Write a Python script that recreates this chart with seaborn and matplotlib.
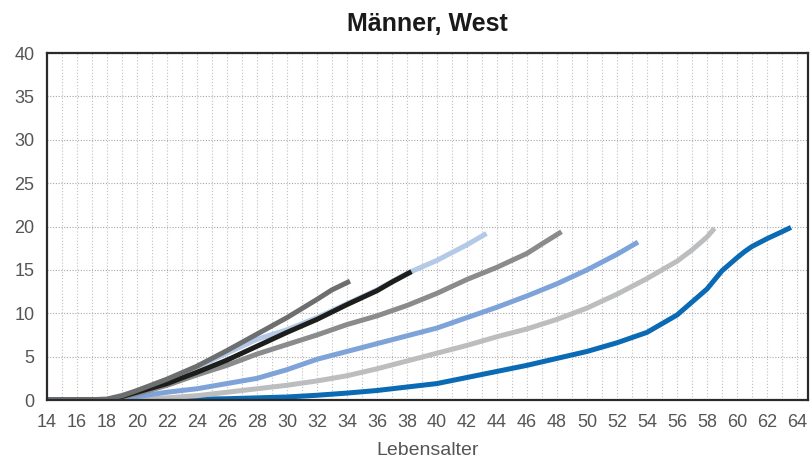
import numpy as np
import pandas as pd
import matplotlib
matplotlib.use("Agg")
import matplotlib.pyplot as plt
import seaborn as sns

# Cumulative values per cohort (age -> value)
ages_c1 = [14, 16, 18, 19, 20, 22, 24, 26, 28, 30, 32, 33, 34.2]
vals_c1 = [0, 0, 0.1, 0.5, 1.1, 2.4, 3.9, 5.7, 7.6, 9.5, 11.6, 12.7, 13.7]

ages_c2 = [14, 16, 18, 19, 20, 22, 24, 26, 28, 30, 32, 34, 36, 37, 38.3]
vals_c2 = [0, 0, 0.05, 0.4, 0.9, 1.9, 3.2, 4.6, 6.2, 7.8, 9.3, 11.0, 12.6, 13.6, 14.8]

ages_c3 = [14, 16, 18, 20, 22, 24, 26, 28, 30, 32, 34, 36, 38, 40, 42, 43.3]
vals_c3 = [0, 0, 0.1, 1.0, 2.4, 3.8, 5.4, 7.0, 8.1, 9.5, 11.1, 12.7, 14.6, 16.1, 17.9, 19.2]

ages_c4 = [14, 16, 18, 20, 22, 24, 26, 28, 30, 32, 34, 36, 38, 40, 42, 44, 46, 47, 48.3]
vals_c4 = [0, 0, 0.05, 0.7, 1.7, 2.9, 4.0, 5.3, 6.4, 7.5, 8.7, 9.7, 10.9, 12.3, 13.9, 15.3, 16.9, 18.0, 19.4]

ages_c5 = [14, 16, 18, 20, 22, 24, 26, 28, 30, 32, 34, 36, 38, 40, 42, 44, 46, 48, 50, 52, 53.4]
vals_c5 = [0, 0, 0.05, 0.4, 0.9, 1.3, 1.9, 2.5, 3.5, 4.7, 5.6, 6.5, 7.4, 8.3, 9.5, 10.7, 12.0, 13.4, 15.0, 16.8, 18.2]

ages_c6 = [14, 18, 20, 22, 24, 26, 28, 30, 32, 34, 36, 38, 40, 42, 44, 46, 48, 50, 52, 54, 56, 57, 58, 58.5]
vals_c6 = [0, 0, 0.05, 0.25, 0.5, 0.9, 1.3, 1.7, 2.2, 2.8, 3.6, 4.5, 5.4, 6.3, 7.3, 8.2, 9.3, 10.6, 12.2, 14.0, 16.0, 17.3, 18.8, 19.8]

ages_c7 = [14, 20, 22, 24, 26, 28, 30, 32, 34, 36, 38, 40, 42, 44, 46, 48, 50, 52, 54, 56, 58, 59, 60, 60.5, 61, 62, 63, 63.6]
vals_c7 = [0, 0, 0.05, 0.1, 0.15, 0.25, 0.35, 0.55, 0.8, 1.1, 1.5, 1.9, 2.6, 3.3, 4.0, 4.8, 5.6, 6.6, 7.8, 9.8, 12.8, 14.9, 16.4, 17.1, 17.7, 18.6, 19.4, 19.9]

cohorts = ["c1", "c2", "c3", "c4", "c5", "c6", "c7"]
colors = ["#6d6e70", "#1d1d1b", "#b3c9e6", "#8a8b8d", "#7ea3d8", "#bcbdbf", "#0a6ab3"]

x_ticks = list(range(14, 65, 2))
y_ticks = list(range(0, 41, 5))

frames = []
for name, a, v in zip(cohorts,
                      [ages_c1, ages_c2, ages_c3, ages_c4, ages_c5, ages_c6, ages_c7],
                      [vals_c1, vals_c2, vals_c3, vals_c4, vals_c5, vals_c6, vals_c7]):
    frames.append(pd.DataFrame({"Lebensalter": a, "Wert": v, "Kohorte": name}))
df = pd.concat(frames, ignore_index=True)

sns.set_theme(style="white")
plt.rcParams['font.family'] = ['Liberation Sans', 'DejaVu Sans']

fig = plt.figure(figsize=(8.1, 4.63), dpi=100)
ax = fig.add_axes([0.058, 0.136, 0.9395, 0.7495])

# draw the latest cohort first so the earlier ones sit on top
for name, col in list(zip(cohorts, colors))[::-1]:
    sns.lineplot(data=df[df["Kohorte"] == name], x="Lebensalter", y="Wert",
                 color=col, linewidth=3.6, ax=ax, legend=False,
                 solid_capstyle="butt", solid_joinstyle="round")

ax.set_xlim(14, 64.73)
ax.set_ylim(0, 40)
ax.set_xticks(x_ticks)
ax.set_yticks(y_ticks)
ax.set_xticks(range(15, 65), minor=True)

ax.grid(False)
ax.xaxis.grid(True, which="both", color="#c0c0c0", linestyle=(0, (1, 1.8)), linewidth=0.8)
ax.yaxis.grid(True, which="major", color="#a8a8a8", linestyle=(0, (1, 1.5)), linewidth=0.8)
ax.set_axisbelow(True)

ax.tick_params(axis="both", which="both", length=0, labelsize=13, colors="#555555")
ax.tick_params(axis="x", pad=10)
ax.tick_params(axis="y", pad=9)

for s in ax.spines.values():
    s.set_color("#2a2a2a")
    s.set_linewidth(1.6)
    s.set_visible(True)

ax.set_xlabel("Lebensalter", fontsize=14, color="#555555", labelpad=8)
ax.set_ylabel("")
ax.set_title("Männer, West", fontsize=18, fontweight="bold", color="#1a1a1a",
             family=['Liberation Sans Narrow', 'Liberation Sans', 'DejaVu Sans'], pad=16)

plt.savefig("out.png", dpi=100)
